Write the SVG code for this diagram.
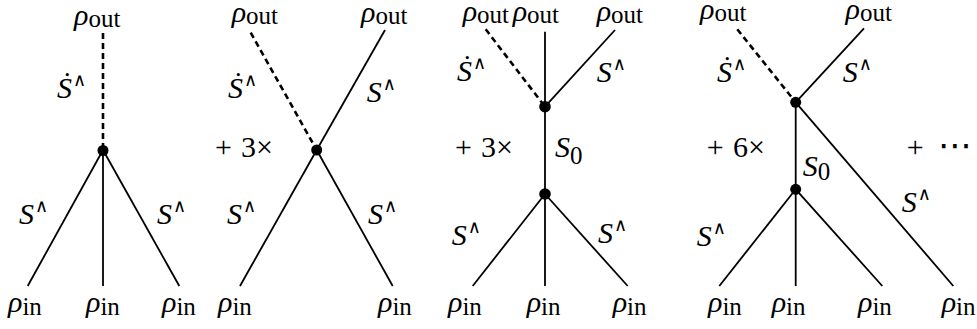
<svg xmlns="http://www.w3.org/2000/svg" width="977" height="329" viewBox="0 0 977 329">
<style>
.m{font-style:italic;font-size:30px}
.sb{font-style:normal;font-size:25px}
.w{font-style:normal;font-size:18px}
.r{font-size:30px;font-style:normal}
.ln{stroke:#000;stroke-width:1.8;fill:none;stroke-linecap:butt}
.ds{stroke:#000;stroke-width:2.6;fill:none;stroke-dasharray:6 4}
.v{fill:#000}
</style>
<g id="connectors">
<line class="ds" x1="103" y1="33" x2="103" y2="150"/>
<line class="ln" x1="103" y1="150" x2="27.7" y2="286"/>
<line class="ln" x1="103" y1="150" x2="103" y2="286"/>
<line class="ln" x1="103" y1="150" x2="179.3" y2="286"/>
<line class="ds" x1="250.7" y1="32.7" x2="316.7" y2="150"/>
<line class="ln" x1="316.7" y1="150" x2="385" y2="30"/>
<line class="ln" x1="316.7" y1="150" x2="240" y2="286"/>
<line class="ln" x1="316.7" y1="150" x2="392.7" y2="286"/>
<line class="ds" x1="485.7" y1="29.3" x2="545" y2="106.7"/>
<line class="ln" x1="545" y1="31.7" x2="545" y2="286"/>
<line class="ln" x1="545" y1="106.7" x2="615" y2="30"/>
<line class="ln" x1="545" y1="194" x2="472.7" y2="286"/>
<line class="ln" x1="545" y1="194" x2="627.7" y2="286"/>
<line class="ds" x1="737.3" y1="29.3" x2="795.7" y2="102.3"/>
<line class="ln" x1="795.7" y1="102.3" x2="864" y2="28.3"/>
<line class="ln" x1="795.7" y1="102.3" x2="795.7" y2="286"/>
<line class="ln" x1="795.7" y1="102.3" x2="953.3" y2="286"/>
<line class="ln" x1="795.7" y1="189.3" x2="719.3" y2="286"/>
<line class="ln" x1="795.7" y1="189.3" x2="882.3" y2="286"/>
</g>
<g id="vertices">
<g id="v1"><circle class="v" cx="103" cy="150.5" r="5.5"/></g>
<g id="v2"><circle class="v" cx="316.7" cy="150" r="5.5"/></g>
<g id="v3a"><circle class="v" cx="545" cy="106.7" r="5.8"/></g>
<g id="v3b"><circle class="v" cx="545" cy="194" r="5.8"/></g>
<g id="v4a"><circle class="v" cx="795.7" cy="102.3" r="5.5"/></g>
<g id="v4b"><circle class="v" cx="795.7" cy="189.3" r="5.5"/></g>
</g>
<g id="labels" font-family="Liberation Serif, serif" fill="#000">
<g id="p1-out"><text class="m" x="74" y="25">ρ<tspan class="sb" dy="1.5">out</tspan></text></g>
<g id="p1-sd"><text class="m" x="57" y="98">Ṡ<tspan class="w" font-family="DejaVu Serif, serif" dx="1" dy="-12">∧</tspan></text></g>
<g id="p1-sl"><text class="m" x="19" y="224">S<tspan class="w" font-family="DejaVu Serif, serif" dx="1" dy="-12">∧</tspan></text></g>
<g id="p1-sr"><text class="m" x="157" y="224">S<tspan class="w" font-family="DejaVu Serif, serif" dx="1" dy="-12">∧</tspan></text></g>
<g id="p1-in1"><text class="m" x="8" y="312">ρ<tspan class="sb" dy="3">in</tspan></text></g>
<g id="p1-in2"><text class="m" x="86" y="312">ρ<tspan class="sb" dy="3">in</tspan></text></g>
<g id="p1-in3"><text class="m" x="162" y="312">ρ<tspan class="sb" dy="3">in</tspan></text></g>
<g id="p2-coef"><text class="r" x="215" y="157">+<tspan x="241">3×</tspan></text></g>
<g id="p2-out1"><text class="m" x="231.7" y="22">ρ<tspan class="sb" dy="1.5">out</tspan></text></g>
<g id="p2-out2"><text class="m" x="361" y="22">ρ<tspan class="sb" dy="1.5">out</tspan></text></g>
<g id="p2-sd"><text class="m" x="228" y="98">Ṡ<tspan class="w" font-family="DejaVu Serif, serif" dx="1" dy="-12">∧</tspan></text></g>
<g id="p2-su"><text class="m" x="366.7" y="101.7">S<tspan class="w" font-family="DejaVu Serif, serif" dx="1" dy="-12">∧</tspan></text></g>
<g id="p2-sl"><text class="m" x="227" y="224">S<tspan class="w" font-family="DejaVu Serif, serif" dx="1" dy="-12">∧</tspan></text></g>
<g id="p2-sr"><text class="m" x="368" y="224">S<tspan class="w" font-family="DejaVu Serif, serif" dx="1" dy="-12">∧</tspan></text></g>
<g id="p2-in1"><text class="m" x="218" y="312">ρ<tspan class="sb" dy="3">in</tspan></text></g>
<g id="p2-in2"><text class="m" x="378" y="312">ρ<tspan class="sb" dy="3">in</tspan></text></g>
<g id="p3-coef"><text class="r" x="455" y="157">+<tspan x="481">3×</tspan></text></g>
<g id="p3-out1"><text class="m" x="462.7" y="21">ρ<tspan class="sb" dy="1.5">out</tspan></text></g>
<g id="p3-out2"><text class="m" x="512.7" y="21">ρ<tspan class="sb" dy="1.5">out</tspan></text></g>
<g id="p3-out3"><text class="m" x="596.7" y="21">ρ<tspan class="sb" dy="1.5">out</tspan></text></g>
<g id="p3-sd"><text class="m" x="457" y="81">Ṡ<tspan class="w" font-family="DejaVu Serif, serif" dx="1" dy="-12">∧</tspan></text></g>
<g id="p3-su"><text class="m" x="596.7" y="81.7">S<tspan class="w" font-family="DejaVu Serif, serif" dx="1" dy="-12">∧</tspan></text></g>
<g id="p3-s0"><text class="m" x="555" y="157">S<tspan class="sb" dy="7">0</tspan></text></g>
<g id="p3-sl"><text class="m" x="451.7" y="245">S<tspan class="w" font-family="DejaVu Serif, serif" dx="1" dy="-12">∧</tspan></text></g>
<g id="p3-sr"><text class="m" x="598" y="242.7">S<tspan class="w" font-family="DejaVu Serif, serif" dx="1" dy="-12">∧</tspan></text></g>
<g id="p3-in1"><text class="m" x="448" y="312">ρ<tspan class="sb" dy="3">in</tspan></text></g>
<g id="p3-in2"><text class="m" x="526.7" y="312">ρ<tspan class="sb" dy="3">in</tspan></text></g>
<g id="p3-in3"><text class="m" x="612.7" y="312">ρ<tspan class="sb" dy="3">in</tspan></text></g>
<g id="p4-coef"><text class="r" x="706.7" y="157">+<tspan x="733">6×</tspan></text></g>
<g id="p4-out1"><text class="m" x="700" y="19">ρ<tspan class="sb" dy="1.5">out</tspan></text></g>
<g id="p4-out2"><text class="m" x="845.5" y="19">ρ<tspan class="sb" dy="1.5">out</tspan></text></g>
<g id="p4-sd"><text class="m" x="717" y="82">Ṡ<tspan class="w" font-family="DejaVu Serif, serif" dx="1" dy="-12">∧</tspan></text></g>
<g id="p4-su"><text class="m" x="842.7" y="82">S<tspan class="w" font-family="DejaVu Serif, serif" dx="1" dy="-12">∧</tspan></text></g>
<g id="p4-s0"><text class="m" x="802.7" y="175.5">S<tspan class="sb" dy="4">0</tspan></text></g>
<g id="p4-sr"><text class="m" x="901.7" y="211.7">S<tspan class="w" font-family="DejaVu Serif, serif" dx="1" dy="-12">∧</tspan></text></g>
<g id="p4-sl"><text class="m" x="696.7" y="246">S<tspan class="w" font-family="DejaVu Serif, serif" dx="1" dy="-12">∧</tspan></text></g>
<g id="p4-in1"><text class="m" x="708" y="312">ρ<tspan class="sb" dy="3">in</tspan></text></g>
<g id="p4-in2"><text class="m" x="771.7" y="312">ρ<tspan class="sb" dy="3">in</tspan></text></g>
<g id="p4-in3"><text class="m" x="858" y="312">ρ<tspan class="sb" dy="3">in</tspan></text></g>
<g id="p4-in4"><text class="m" x="941.7" y="312">ρ<tspan class="sb" dy="3">in</tspan></text></g>
<g id="p5-dots"><text class="r" x="906.7" y="157">+<tspan x="938" font-family="DejaVu Sans, sans-serif" font-size="34">⋯</tspan></text></g>
</g>
</svg>
